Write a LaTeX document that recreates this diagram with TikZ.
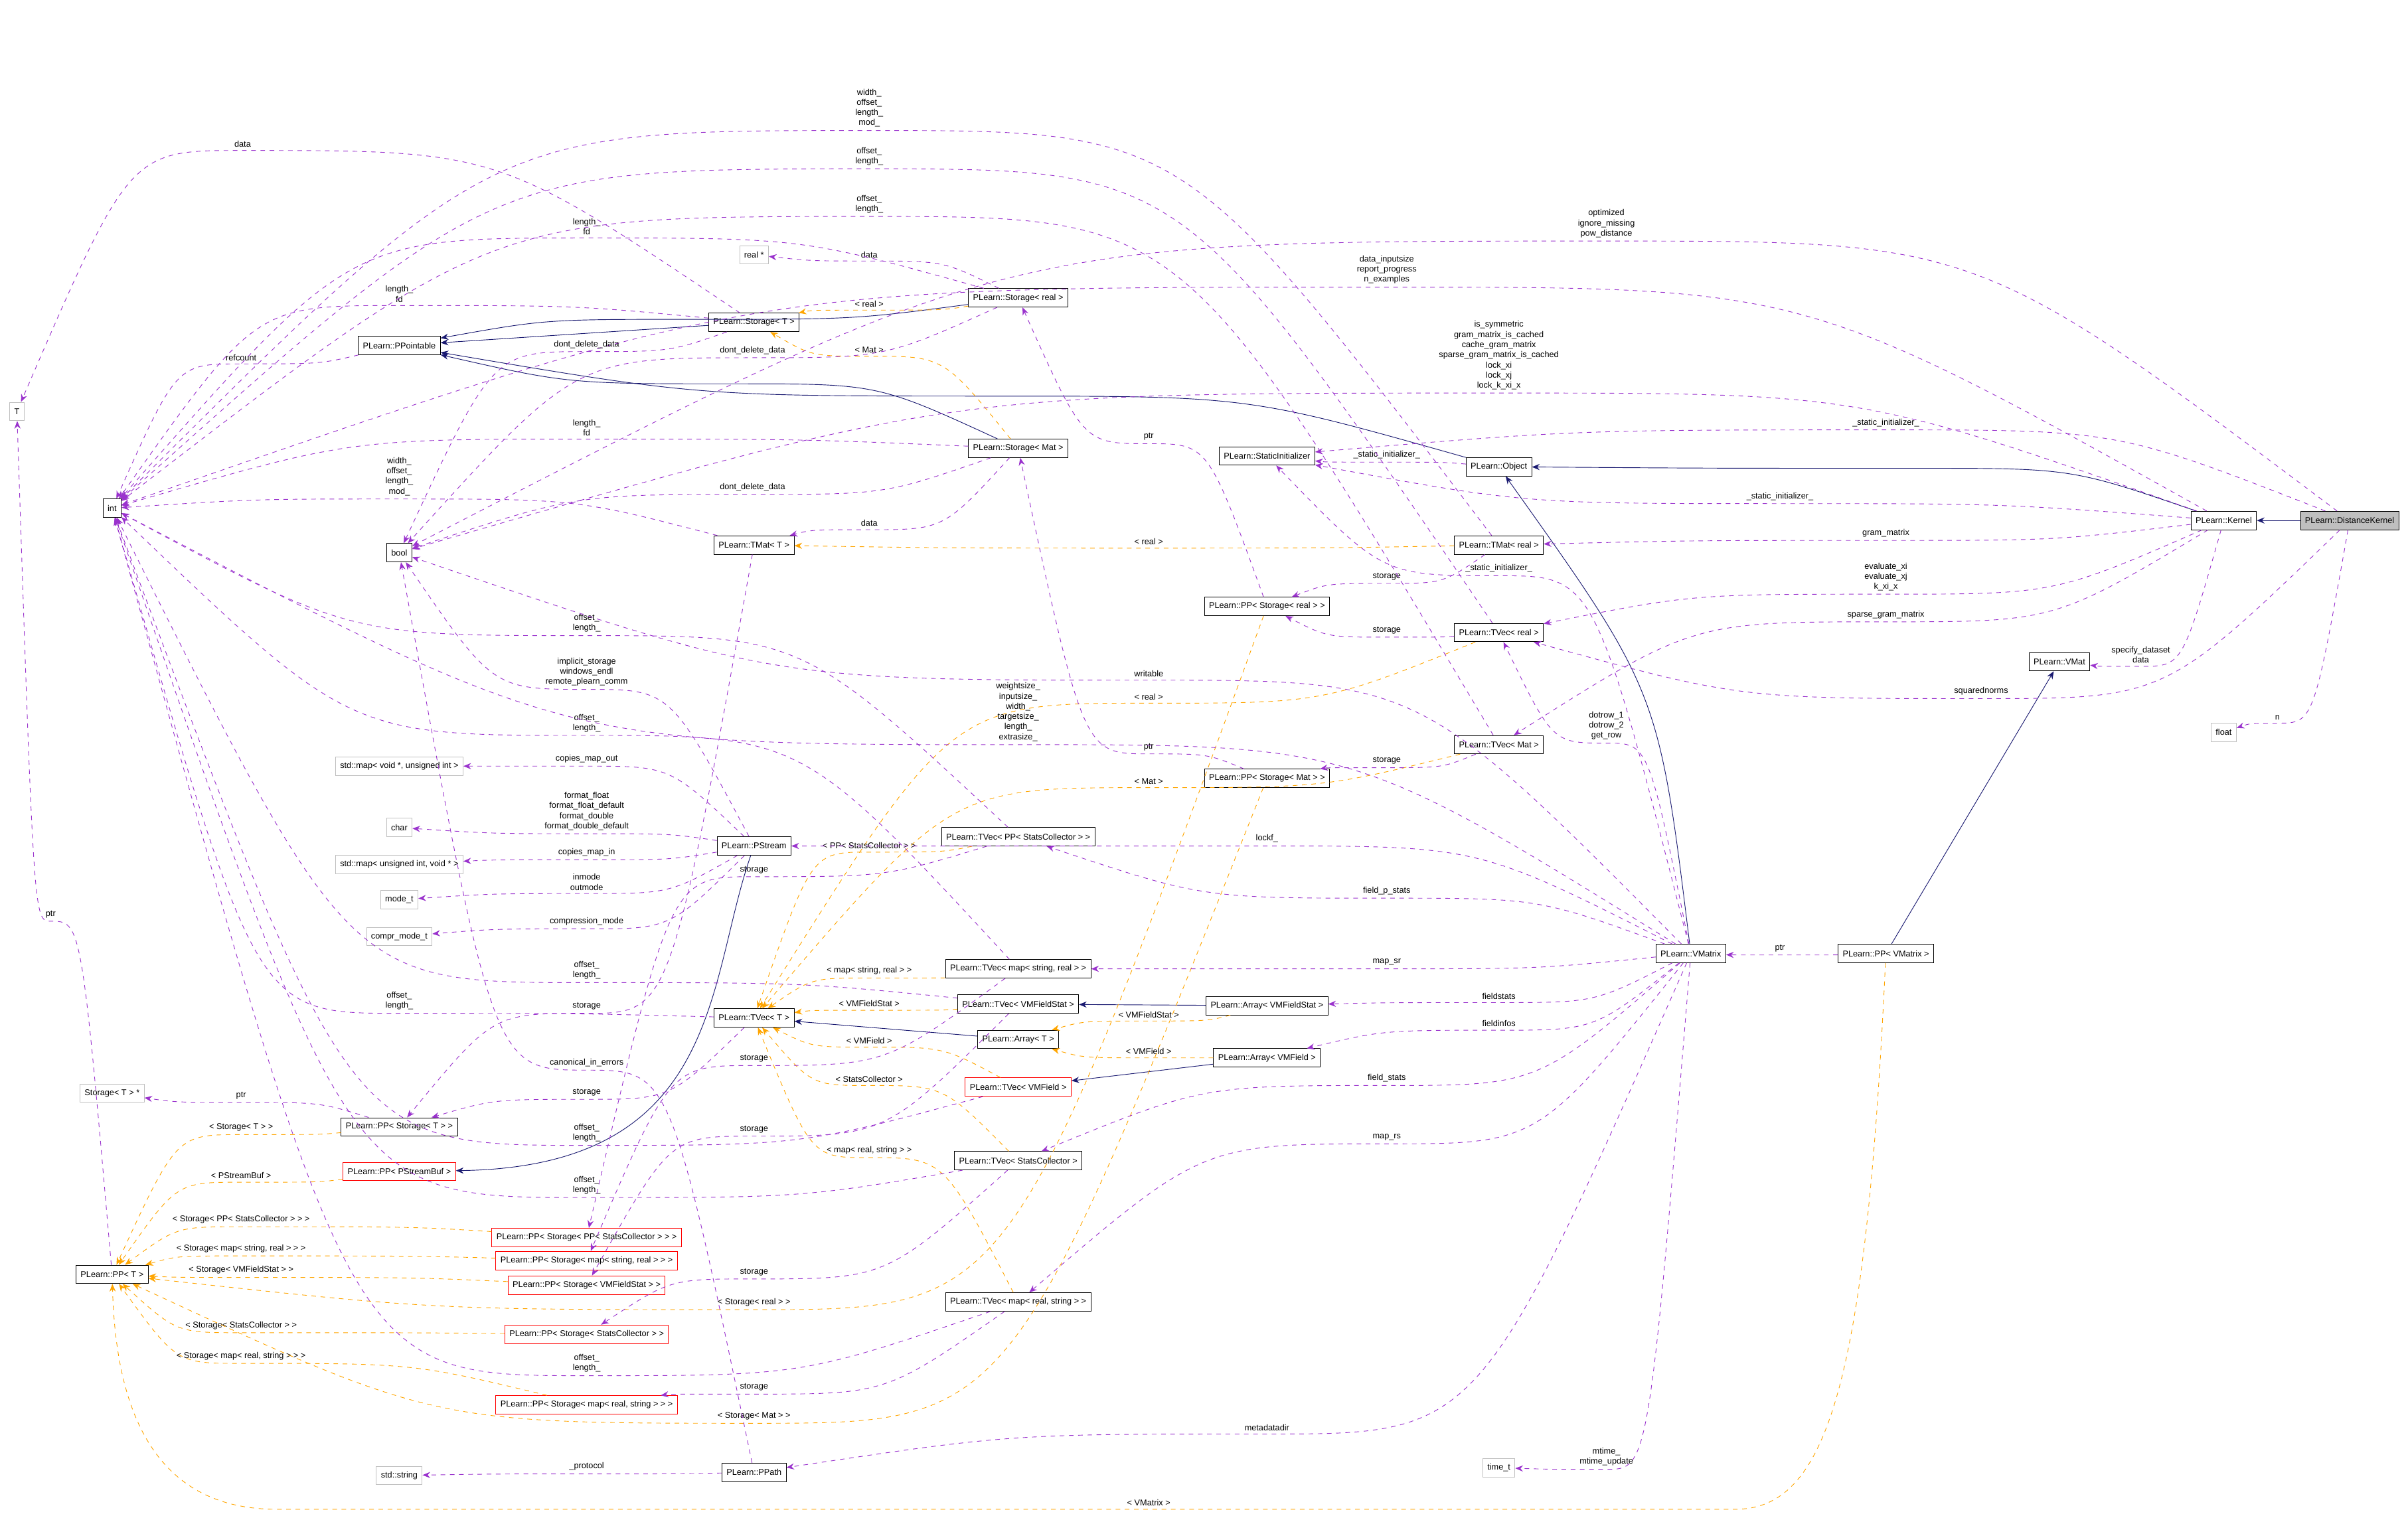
\documentclass[tikz,border=0pt]{standalone}
\usepackage{fontspec}
\setmainfont{Liberation Sans}
\usetikzlibrary{arrows.meta,calc}
\definecolor{mem}{HTML}{9A32CD}
\definecolor{tpl}{HTML}{FFA500}
\definecolor{inh}{HTML}{191970}
\tikzset{
 cls/.style={draw=black,fill=white,font=\fontsize{5.5}{6.5}\selectfont,minimum height=12pt,inner xsep=3pt,inner ysep=1pt},
 ext/.style={cls,draw=black!25},
 redc/.style={cls,draw=red},
 lbl/.style={font=\fontsize{5.5}{6.6}\selectfont,align=center,inner sep=0pt},
 memE/.style={draw=mem,dashed,-{Stealth[length=5pt,width=4pt]}},
 tplE/.style={draw=tpl,dashed,-{Stealth[length=5pt,width=4pt]}},
 inhE/.style={draw=inh,-{Stealth[length=5pt,width=4pt]}},
}
\newcommand\E[6]{%
 \coordinate (P) at (#4,#5+5);
 \path ($(#2)!.5!(P)$) coordinate (ca) ($(#3)!.5!(P)$) coordinate (cb);
 \draw[#1] (#2) .. controls (ca |- P) .. (P) .. controls (cb |- P) .. (#3);
 \node[lbl,anchor=south] at (#4,#5+3) {#6};}
\begin{document}
\begin{tikzpicture}[x=1pt,y=-1pt]
\useasboundingbox (0,0) rectangle (1568,987);
% nodes
\node[cls,fill=black!25] (dk) at (1530,339) {PLearn::DistanceKernel};
\node[cls] (ker) at (1448,339) {PLearn::Kernel};
\node[cls] (obj) at (976,304) {PLearn::Object};
\node[cls] (si) at (825,297) {PLearn::StaticInitializer};
\node[cls] (tmr) at (976,355) {PLearn::TMat< real >};
\node[cls] (pssr) at (825,395) {PLearn::PP< Storage< real > >};
\node[cls] (tvr) at (976,412) {PLearn::TVec< real >};
\node[cls] (tvm) at (976,485) {PLearn::TVec< Mat >};
\node[cls] (pssm) at (825,507) {PLearn::PP< Storage< Mat > >};
\node[cls] (vmat) at (1341,431) {PLearn::VMat};
\node[ext] (flt) at (1448,477) {float};
\node[cls] (vmx) at (1101,621) {PLearn::VMatrix};
\node[cls] (ppvm) at (1228,621) {PLearn::PP< VMatrix >};
\node[ext] (tt) at (976,956) {time\_t};
\node[cls] (int) at (73,331) {int};
\node[ext] (T) at (11,268) {T};
\node[cls] (bool) at (260,360) {bool};
\node[cls] (ppt) at (260,225) {PLearn::PPointable};
\node[cls] (st) at (491,210) {PLearn::Storage< T >};
\node[cls] (sr) at (663,194) {PLearn::Storage< real >};
\node[ext] (rs) at (491,166) {real *};
\node[cls] (sm) at (663,292) {PLearn::Storage< Mat >};
\node[cls] (tmt) at (491,355) {PLearn::TMat< T >};
\node[ext] (mvo) at (260,499) {std::map< void *, unsigned int >};
\node[ext] (chr) at (260,539) {char};
\node[ext] (mui) at (260,563) {std::map< unsigned int, void * >};
\node[ext] (mod) at (260,586) {mode\_t};
\node[ext] (cmt) at (260,610) {compr\_mode\_t};
\node[cls] (ps) at (491,551) {PLearn::PStream};
\node[cls] (tvpsc) at (663,545) {PLearn::TVec< PP< StatsCollector > >};
\node[cls] (tvmsr) at (663,631) {PLearn::TVec< map< string, real > >};
\node[cls] (tvfs) at (663,654) {PLearn::TVec< VMFieldStat >};
\node[cls] (arT) at (663,677) {PLearn::Array< T >};
\node[redc] (tvf) at (663,708) {PLearn::TVec< VMField >};
\node[cls] (tvsc) at (663,756) {PLearn::TVec< StatsCollector >};
\node[cls] (tvT) at (491,663) {PLearn::TVec< T >};
\node[cls] (arfs) at (825,655) {PLearn::Array< VMFieldStat >};
\node[cls] (arf) at (825,689) {PLearn::Array< VMField >};
\node[ext] (stp) at (73,712) {Storage< T > *};
\node[cls] (psT) at (260,734) {PLearn::PP< Storage< T > >};
\node[redc] (ppsb) at (260,763) {PLearn::PP< PStreamBuf >};
\node[cls] (ppT) at (73,830) {PLearn::PP< T >};
\node[redc] (pspsc) at (382,806) {PLearn::PP< Storage< PP< StatsCollector > > >};
\node[redc] (psmsr) at (382,821) {PLearn::PP< Storage< map< string, real > > >};
\node[redc] (psfs) at (382,837) {PLearn::PP< Storage< VMFieldStat > >};
\node[redc] (pssc) at (382,869) {PLearn::PP< Storage< StatsCollector > >};
\node[cls] (tvmrs) at (663,848) {PLearn::TVec< map< real, string > >};
\node[redc] (psmrs) at (382,915) {PLearn::PP< Storage< map< real, string > > >};
\node[ext] (str) at (260,961) {std::string};
\node[cls] (pth) at (491,959) {PLearn::PPath};
% inheritance
\draw[inhE] (dk) -- (ker);
\E{inhE}{ker}{obj}{1250}{300}{}
\E{inhE}{obj}{ppt}{650}{253}{}
\E{inhE}{sr}{ppt}{450}{203}{}
\draw[inhE] (st) -- (ppt);
\E{inhE}{sm}{ppt}{480}{245}{}
\draw[inhE] (vmx) .. controls (1080,450) .. (obj);
\draw[inhE] (ppvm) -- (vmat);
\draw[inhE] (ps) .. controls (460,640) and (470,760) .. (ppsb);
\draw[inhE] (arT) -- (tvT);
\draw[inhE] (arfs) -- (tvfs);
\draw[inhE] (arf) -- (tvf);
% template instances
\E{tplE}{sr}{st}{566}{197}{< real >}
\E{tplE}{sm}{st}{566}{227}{< Mat >}
\E{tplE}{tmr}{tmt}{748}{352}{< real >}
\E{tplE}{tvr}{tvT}{748}{453}{< real >}
\E{tplE}{tvm}{tvT}{748}{508}{< Mat >}
\E{tplE}{tvpsc}{tvT}{566}{550}{< PP< StatsCollector > >}
\E{tplE}{tvmsr}{tvT}{566}{632}{< map< string, real > >}
\E{tplE}{tvfs}{tvT}{566}{653}{< VMFieldStat >}
\E{tplE}{tvf}{tvT}{566}{677}{< VMField >}
\E{tplE}{tvsc}{tvT}{566}{702}{< StatsCollector >}
\E{tplE}{tvmrs}{tvT}{566}{749}{< map< real, string > >}
\E{tplE}{arfs}{arT}{748}{660}{< VMFieldStat >}
\E{tplE}{arf}{arT}{748}{684}{< VMField >}
\E{tplE}{psT}{ppT}{157}{734}{< Storage< T > >}
\E{tplE}{ppsb}{ppT}{157}{765}{< PStreamBuf >}
\E{tplE}{pspsc}{ppT}{157}{794}{< Storage< PP< StatsCollector > > >}
\E{tplE}{psmsr}{ppT}{157}{813}{< Storage< map< string, real > > >}
\E{tplE}{psfs}{ppT}{157}{827}{< Storage< VMFieldStat > >}
\E{tplE}{pssc}{ppT}{157}{863}{< Storage< StatsCollector > >}
\E{tplE}{psmrs}{ppT}{157}{883}{< Storage< map< real, string > > >}
\E{tplE}{pssr}{ppT}{491}{848}{< Storage< real > >}
\E{tplE}{pssm}{ppT}{491}{922}{< Storage< Mat > >}
\draw[tplE] (ppvm) .. controls (1215,900) and (1190,983) .. (1130,983) -- (180,983) .. controls (90,983) and (75,900) .. (ppT);
\node[lbl,anchor=south] at (748,981) {< VMatrix >};
% members
\E{memE}{dk}{bool}{1046}{152}{optimized\\ignore\_missing\\pow\_distance}
\E{memE}{ker}{int}{903}{182}{data\_inputsize\\report\_progress\\n\_examples}
\E{memE}{ker}{bool}{976}{251}{is\_symmetric\\gram\_matrix\_is\_cached\\cache\_gram\_matrix\\sparse\_gram\_matrix\_is\_cached\\lock\_xi\\lock\_xj\\lock\_k\_xi\_x}
\E{memE}{dk}{si}{1228}{275}{\_static\_initializer\_}
\E{memE}{obj}{si}{903}{296}{\_static\_initializer\_}
\E{memE}{ker}{si}{1159}{323}{\_static\_initializer\_}
\E{memE}{vmx}{si}{976}{370}{\_static\_initializer\_}
\E{memE}{ker}{tmr}{1228}{347}{gram\_matrix}
\E{memE}{ker}{tvr}{1228}{382}{evaluate\_xi\\evaluate\_xj\\k\_xi\_x}
\E{memE}{ker}{tvm}{1228}{400}{sparse\_gram\_matrix}
\E{memE}{ker}{vmat}{1394}{429}{specify\_dataset\\data}
\E{memE}{dk}{tvr}{1290}{450}{squarednorms}
\E{memE}{dk}{flt}{1483}{466}{n}
\E{memE}{tmr}{pssr}{903}{375}{storage}
\E{memE}{tvr}{pssr}{903}{410}{storage}
\E{memE}{tvm}{pssm}{903}{495}{storage}
\E{memE}{pssr}{sr}{748}{284}{ptr}
\E{memE}{pssm}{sm}{748}{486}{ptr}
\E{memE}{sr}{rs}{566}{165}{data}
\E{memE}{sr}{int}{382}{150}{length\_\\fd}
\E{memE}{st}{int}{260}{194}{length\_\\fd}
\E{memE}{sm}{int}{382}{281}{length\_\\fd}
\E{memE}{st}{T}{158}{93}{data}
\E{memE}{st}{bool}{382}{224}{dont\_delete\_data}
\E{memE}{sr}{bool}{490}{228}{dont\_delete\_data}
\E{memE}{sm}{bool}{490}{317}{dont\_delete\_data}
\E{memE}{sm}{tmt}{566}{340}{data}
\E{memE}{ppt}{int}{157}{232}{refcount}
\E{memE}{tmr}{int}{566}{80}{width\_\\offset\_\\length\_\\mod\_}
\E{memE}{tvr}{int}{566}{105}{offset\_\\length\_}
\E{memE}{tvm}{int}{566}{136}{offset\_\\length\_}
\E{memE}{tmt}{int}{260}{320}{width\_\\offset\_\\length\_\\mod\_}
\E{memE}{tvpsc}{int}{382}{409}{offset\_\\length\_}
\E{memE}{tvmsr}{int}{382}{474}{offset\_\\length\_}
\E{memE}{tvfs}{int}{382}{635}{offset\_\\length\_}
\E{memE}{tvT}{int}{260}{655}{offset\_\\length\_}
\E{memE}{tvf}{int}{382}{741}{offset\_\\length\_}
\E{memE}{tvsc}{int}{382}{775}{offset\_\\length\_}
\E{memE}{tvmrs}{int}{382}{891}{offset\_\\length\_}
\E{memE}{vmx}{int}{663}{480}{weightsize\_\\inputsize\_\\width\_\\targetsize\_\\length\_\\extrasize\_}
\E{memE}{vmx}{bool}{748}{438}{writable}
\E{memE}{ps}{bool}{382}{444}{implicit\_storage\\windows\_endl\\remote\_plearn\_comm}
\E{memE}{vmx}{tvr}{1046}{479}{dotrow\_1\\dotrow\_2\\get\_row}
\E{memE}{vmx}{ps}{825}{546}{lockf\_}
\E{memE}{vmx}{tvpsc}{903}{580}{field\_p\_stats}
\E{memE}{vmx}{tvmsr}{903}{626}{map\_sr}
\E{memE}{vmx}{arfs}{976}{648}{fieldstats}
\E{memE}{vmx}{arf}{976}{666}{fieldinfos}
\E{memE}{vmx}{tvsc}{903}{702}{field\_stats}
\E{memE}{vmx}{tvmrs}{903}{740}{map\_rs}
\E{memE}{vmx}{pth}{825}{929}{metadatadir}
\E{memE}{vmx}{tt}{1046}{952}{mtime\_\\mtime\_update}
\E{memE}{ppvm}{vmx}{1159}{617}{ptr}
\E{memE}{ps}{mvo}{382}{494}{copies\_map\_out}
\E{memE}{ps}{chr}{382}{538}{format\_float\\format\_float\_default\\format\_double\\format\_double\_default}
\E{memE}{ps}{mui}{382}{555}{copies\_map\_in}
\E{memE}{ps}{mod}{382}{577}{inmode\\outmode}
\E{memE}{ps}{cmt}{382}{600}{compression\_mode}
\E{memE}{tmt}{psT}{382}{655}{storage}
\E{memE}{tvT}{psT}{382}{711}{storage}
\E{memE}{tvpsc}{pspsc}{491}{566}{storage}
\E{memE}{tvmsr}{psmsr}{491}{689}{storage}
\E{memE}{tvfs}{psfs}{491}{735}{storage}
\E{memE}{tvsc}{pssc}{491}{828}{storage}
\E{memE}{tvmrs}{psmrs}{491}{903}{storage}
\E{memE}{pth}{bool}{382}{692}{canonical\_in\_errors}
\E{memE}{psT}{stp}{157}{713}{ptr}
\E{memE}{ppT}{T}{33}{595}{ptr}
\E{memE}{pth}{str}{382}{955}{\_protocol}
\end{tikzpicture}
\end{document}
